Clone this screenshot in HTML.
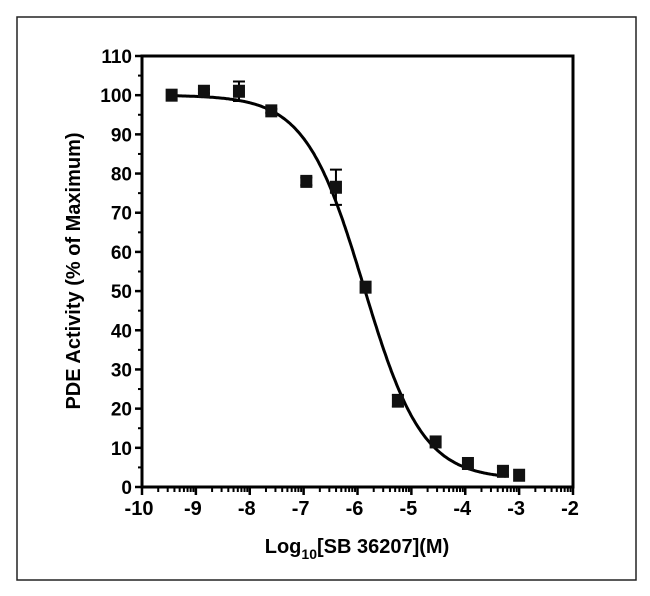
<!DOCTYPE html>
<html><head><meta charset="utf-8"><style>
body{margin:0;background:#fff;}
svg{display:block;font-family:"Liberation Sans",Arial,sans-serif;font-weight:bold;}
</style></head><body>
<svg width="650" height="596" viewBox="0 0 650 596">
<rect x="17" y="17" width="619" height="563" fill="none" stroke="#222" stroke-width="1.5"/>
<g id="plot"></g>
<text x="357" y="553" font-size="20" text-anchor="middle">Log<tspan font-size="14" dy="6">10</tspan><tspan dy="-6">[SB 36207](M)</tspan></text>
<text transform="translate(80,271) rotate(-90)" font-size="20" text-anchor="middle">PDE  Activity (% of Maximum)</text>
</svg>
<script>
const xTicks=[-10,-9,-8,-7,-6,-5,-4,-3,-2];
const yTicks=[0,10,20,30,40,50,60,70,80,90,100,110];
const xVals=[-9.45,-8.85,-8.2,-7.6,-6.95,-6.4,-5.85,-5.25,-4.55,-3.95,-3.3,-3.0];
const yVals=[100,101,101,96,78,76.5,51,22,11.5,6,4,3];
const errVals=[0,0.5,2.5,0.5,1,4.5,0,1.5,0,0,1,0];
const fitTop=100,fitBottom=2,fitLogIC50=-5.88,fitHill=0.8;
const X0=142,X1=573,Y0=487,Y1=56;
const sx=v=>X0+(v+10)/8*(X1-X0);
const sy=v=>Y0-v/110*(Y0-Y1);
const NS="http://www.w3.org/2000/svg";
const g=document.getElementById('plot');
function mk(t,a){const e=document.createElementNS(NS,t);for(const k in a)e.setAttribute(k,a[k]);g.appendChild(e);return e;}
let e=mk('rect',{x:X0,y:Y1,width:X1-X0,height:Y0-Y1,fill:'none',stroke:'#000','stroke-width':3});


yTicks.forEach(t=>{
 let l=mk('line',{x1:X0-7,x2:X0,y1:sy(t),y2:sy(t),stroke:'#000','stroke-width':2.5});
 
 
 if(t<110){let m=mk('line',{x1:X0-4,x2:X0,y1:sy(t+5),y2:sy(t+5),stroke:'#000','stroke-width':2});
 
 }
 let tx=mk('text',{x:X0-10,y:sy(t)+7,'font-size':19,'text-anchor':'end'});tx.textContent=t;
 
 
});
xTicks.forEach((t,i)=>{
 let l=mk('line',{x1:sx(t),x2:sx(t),y1:Y0,y2:Y0+8,stroke:'#000','stroke-width':2.5});
 
 
 if(i<xTicks.length-1){for(let k=2;k<=9;k++){let xv=t+Math.log10(k);
  let m=mk('line',{x1:sx(xv),x2:sx(xv),y1:Y0,y2:Y0+5,stroke:'#000','stroke-width':2});
  
  }}
 let tx=mk('text',{x:sx(t)-3,y:Y0+28,'font-size':20,'text-anchor':'middle'});tx.textContent=t;
 
 
});
let d='';for(let x=-9.45;x<=-3.25;x+=0.02){const y=fitBottom+(fitTop-fitBottom)/(1+Math.pow(10,(x-fitLogIC50)*fitHill));d+=(d?'L':'M')+sx(x).toFixed(1)+','+sy(y).toFixed(1);}
let c=mk('path',{d:d,fill:'none',stroke:'#000','stroke-width':3});


xVals.forEach((x,i)=>{
 const px=sx(x),py=sy(yVals[i]);
 if(errVals[i]>0){const a=sy(yVals[i]+errVals[i]),b=sy(yVals[i]-errVals[i]);
  let eb=mk('path',{d:`M${px},${a}L${px},${b}M${px-6},${a}L${px+6},${a}M${px-6},${b}L${px+6},${b}`,stroke:'#000','stroke-width':2,fill:'none'});
  
  }
 let p=mk('rect',{x:px-6,y:py-6.5,width:12,height:13,fill:'#111'});
 
 
});
</script>
</body></html>
